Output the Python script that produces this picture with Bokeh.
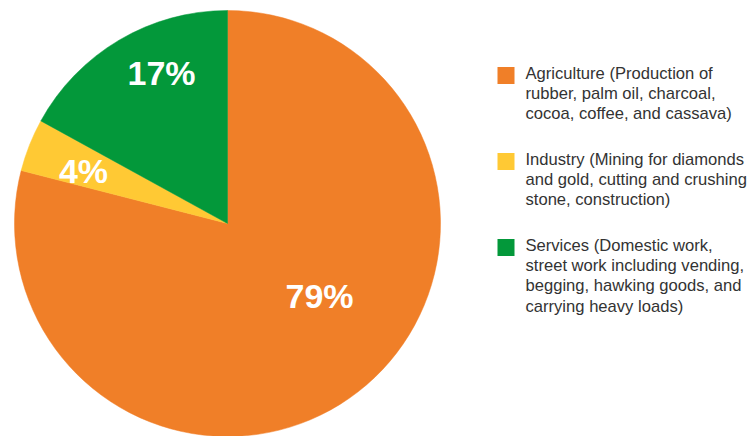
import math
from bokeh.plotting import figure
from bokeh.models import Range1d, ColumnDataSource
from bokeh.core.properties import value
from bokeh.embed import file_html
from bokeh.resources import INLINE

# ---- data ----
categories = ["Agriculture", "Industry", "Services"]
shares = [79, 4, 17]
pct_labels = ["79%", "4%", "17%"]
legend_texts = [
    ["Agriculture (Production of", "rubber, palm oil, charcoal,", "cocoa, coffee, and cassava)"],
    ["Industry (Mining for diamonds", "and gold, cutting and crushing", "stone, construction)"],
    ["Services (Domestic work,", "street work including vending,", "begging, hawking goods, and", "carrying heavy loads)"],
]
colors = ["#F07F28", "#FFC934", "#03983A"]

# ---- layout (picture pixel coordinates; y negated) ----
W, H = 754, 436
cx, cy, R = 227, 223, 213
label_pos = [(319, 295), (83, 170), (161, 72)]
leg_sq_x, leg_txt_x = 505.5, 525
leg_first_y = [73, 159, 245]
line_gap = 20.2

p = figure(width=W, height=H, output_backend="svg", toolbar_location=None,
           x_range=Range1d(0, W), y_range=Range1d(-H, 0),
           min_border=0, outline_line_color=None)
p.axis.visible = False
p.grid.visible = False
p.background_fill_color = "white"

# wedges: start at top (90deg), go counter-clockwise Services -> Industry -> Agriculture
total = float(sum(shares))
starts, ends = [0.0] * 3, [0.0] * 3
ang = math.pi / 2
for i in reversed(range(len(shares))):
    span = 2 * math.pi * shares[i] / total
    starts[i] = ang
    ends[i] = ang + span
    ang += span

src = ColumnDataSource(dict(x=[cx] * 3, y=[-cy] * 3, start=starts, end=ends, color=colors))
p.wedge(x="x", y="y", radius=R, start_angle="start", end_angle="end",
        fill_color="color", line_color="color", line_width=0.5, source=src)

p.text(x=[lp[0] for lp in label_pos], y=[-lp[1] for lp in label_pos], text=pct_labels,
       text_color="white", text_font=value("Liberation Sans"), text_font_style="bold",
       text_font_size="34px", text_align="center", text_baseline="middle")

# legend
sq_y, tx, ty, tt = [], [], [], []
for i, lines in enumerate(legend_texts):
    sq_y.append(-(leg_first_y[i] + 2))
    for j, ln in enumerate(lines):
        tx.append(leg_txt_x)
        ty.append(-(leg_first_y[i] + j * line_gap))
        tt.append(ln)
p.rect(x=[leg_sq_x] * 3, y=sq_y, width=17, height=17, fill_color=colors, line_color=None)
p.text(x=tx, y=ty, text=tt, text_color="#333333", text_font=value("Liberation Sans"),
       text_font_size="16.6px", text_align="left", text_baseline="middle")

open("out.html", "w").write(file_html(p, INLINE))
